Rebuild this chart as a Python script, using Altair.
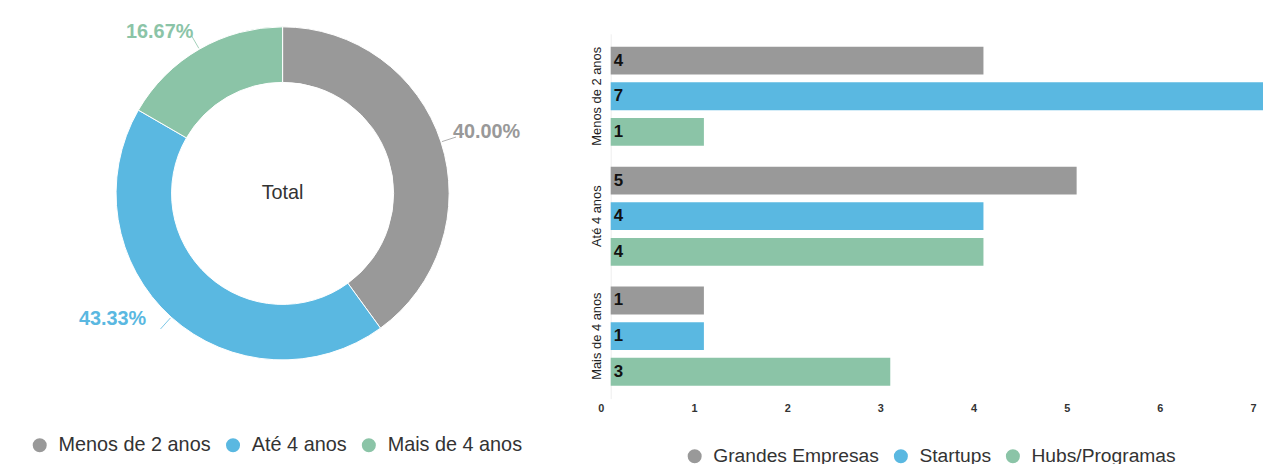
import altair as alt
import pandas as pd

# ---- data ----
faixas = ["Menos de 2 anos", "Até 4 anos", "Mais de 4 anos"]
series = ["Grandes Empresas", "Startups", "Hubs/Programas"]
grandes = [4, 5, 1]
startups = [7, 4, 1]
hubs = [1, 4, 3]
x_ticks = [0, 1, 2, 3, 4, 5, 6, 7]

colors = ["#999999", "#5ab8e1", "#8bc4a7"]
FONT = "Liberation Sans"

# donut totals by faixa (sum over series)
totals = [g + s + h for g, s, h in zip(grandes, startups, hubs)]
donut_df = pd.DataFrame({"faixa": faixas, "count": totals, "ordem": list(range(len(faixas)))})

rows = []
for i, f in enumerate(faixas):
    for serie, vals in zip(series, [grandes, startups, hubs]):
        rows.append({"faixa": f, "serie": serie, "valor": vals[i]})
bar_df = pd.DataFrame(rows)

# ---- donut ----
W1, H1 = 554, 322
R_IN, R_OUT = 112, 168
arcs = alt.Chart(donut_df).mark_arc(
    innerRadius=R_IN, outerRadius=R_OUT, stroke="white", strokeWidth=1
).encode(
    theta=alt.Theta("count:Q", stack=True),
    order=alt.Order("ordem:Q"),
    color=alt.Color(
        "faixa:N",
        scale=alt.Scale(domain=faixas, range=colors),
        sort=faixas,
        legend=alt.Legend(
            title=None, orient="none", legendX=22, legendY=405, direction="horizontal",
            symbolType="circle", symbolSize=200, symbolStrokeWidth=0,
            labelFontSize=20, labelFont=FONT, labelColor="#333333",
            labelOffset=9, columnPadding=12, padding=0, labelLimit=400,
        ),
    ),
)

lab_base = alt.Chart(donut_df).transform_joinaggregate(
    total="sum(count)"
).transform_window(
    cum="sum(count)", sort=[alt.SortField("ordem", order="ascending")]
).transform_calculate(
    pct="datum.count / datum.total",
    mid="datum.cum - datum.count / 2",
    ang="2 * PI * (datum.cum - datum.count / 2) / datum.total",
)

# leader lines (radial segments from the ring edge, at each slice's mid angle)
leaders = lab_base.transform_calculate(
    lx1=f"{W1 / 2} + {R_OUT + 1} * sin(datum.ang)",
    ly1=f"{H1 / 2} - {R_OUT + 1} * cos(datum.ang)",
    lx2=f"{W1 / 2} + {R_OUT + 16} * sin(datum.ang)",
    ly2=f"{H1 / 2} - {R_OUT + 16} * cos(datum.ang)",
).mark_rule(strokeWidth=1, opacity=0.8).encode(
    x=alt.X("lx1:Q", scale=None, axis=None),
    y=alt.Y("ly1:Q", scale=None, axis=None),
    x2="lx2:Q",
    y2="ly2:Q",
    color=alt.Color("faixa:N", scale=alt.Scale(domain=faixas, range=colors), legend=None),
)

offsets = {
    "Menos de 2 anos": (6, 3),
    "Até 4 anos": (-31, -29),
    "Mais de 4 anos": (-19, 19),
}
label_layers = []
for f, c in zip(faixas, colors):
    dx, dy = offsets[f]
    label_layers.append(
        lab_base.transform_filter(alt.datum.faixa == f)
        .mark_text(radius=210, fontSize=20, font=FONT, fontWeight="bold", color=c, dx=dx, dy=dy)
        .encode(
            theta=alt.Theta("mid:Q", stack=False),
            text=alt.Text("pct:Q", format=".2%"),
        )
    )

center_text = alt.Chart(pd.DataFrame({"t": ["Total"]})).mark_text(
    fontSize=20, font=FONT, color="#333333"
).encode(text="t:N")

donut = alt.layer(arcs, leaders, *label_layers, center_text).properties(width=W1, height=H1)

# ---- bars ----
W2, H2 = 658, 368
bar_base = alt.Chart(bar_df).encode(
    y=alt.Y(
        "faixa:N", sort=faixas, title=None,
        scale=alt.Scale(paddingInner=0.174, paddingOuter=0.108),
        axis=alt.Axis(
            labelAngle=270, labelAlign="center", labelBaseline="bottom",
            labelFontSize=13, labelFont=FONT, labelColor="#222222", labelPadding=7,
            ticks=False, domainColor="#eeeeee", domainWidth=1, labelLimit=200,
        ),
    ),
    yOffset=alt.YOffset("serie:N", sort=series, scale=alt.Scale(paddingInner=0.22, paddingOuter=0)),
)

bars = bar_base.mark_bar().encode(
    x=alt.X(
        "valor:Q", title=None,
        scale=alt.Scale(domain=[0, 7], nice=False),
        axis=alt.Axis(
            values=x_ticks, format="d", grid=False, ticks=False, domain=False,
            labelFontSize=11, labelFont=FONT, labelFontWeight="bold", labelColor="#333333",
            labelPadding=4, labelOffset=-10, labelFlush=False,
        ),
    ),
    color=alt.Color(
        "serie:N",
        scale=alt.Scale(domain=series, range=colors),
        sort=series,
        legend=alt.Legend(
            title=None, orient="none", legendX=75, legendY=416, direction="horizontal",
            symbolType="circle", symbolSize=200, symbolStrokeWidth=0,
            labelFontSize=19.4, labelFont=FONT, labelColor="#333333",
            labelOffset=9, columnPadding=12, padding=0, labelLimit=400,
        ),
    ),
)

bar_text = bar_base.mark_text(
    align="left", dx=3, fontSize=17, font=FONT, fontWeight="bold", color="#111111"
).encode(
    x=alt.datum(0),
    text=alt.Text("valor:Q", format="d"),
)

bar_chart = alt.layer(bars, bar_text).properties(
    width=W2, height=H2,
    title=alt.TitleParams(" ", fontSize=10, offset=14),
)

chart = alt.hconcat(donut, bar_chart, spacing=33).resolve_scale(
    color="independent"
).configure(
    padding=0,
).configure_view(stroke=None)

chart.save("out.html", embed_options={"renderer": "svg", "actions": False})
